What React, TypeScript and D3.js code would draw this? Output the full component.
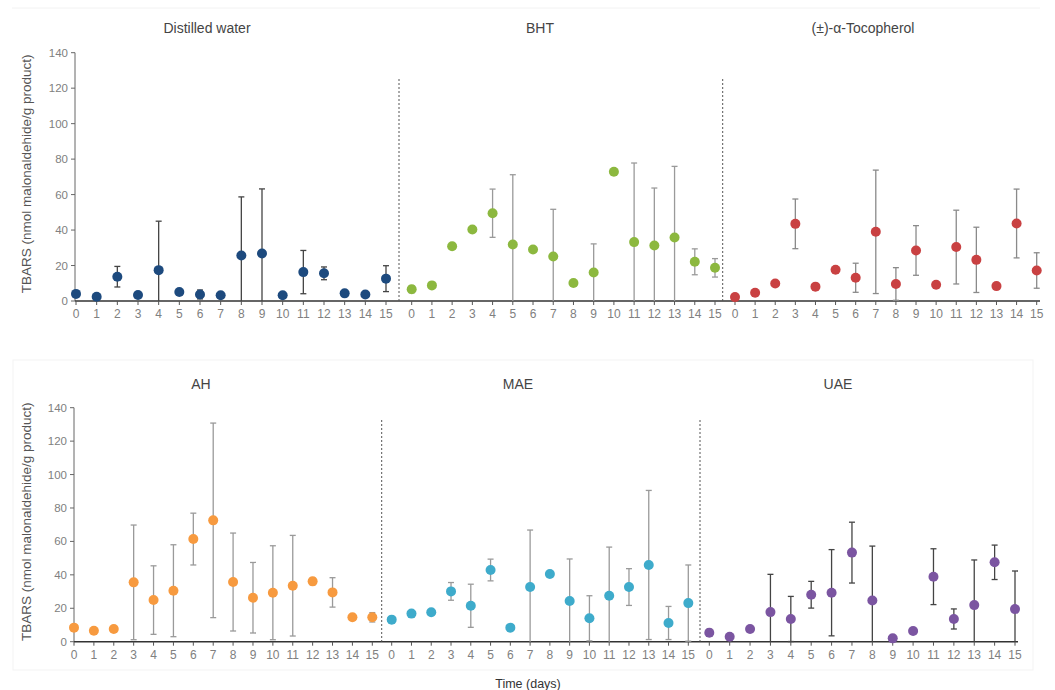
import React from "react";
import { scaleLinear, range } from "d3";

const width = 1055, height = 690;

const days = range(0, 16);
const yTicks = [0, 20, 40, 60, 80, 100, 120, 140];

// TBARS means and SD
const dwMean = [4, 2.4, 13.7, 3.4, 17.4, 5.1, 3.7, 3.2, 25.7, 26.8, 3.2, 16.3, 15.6, 4.3, 3.7, 12.6];
const dwErr = [1, 1, 5.8, 1.5, 27.6, 1, 2.5, 1, 33, 36.4, 1, 12.2, 3.6, 1.5, 0.5, 7.3];

const bhtMean = [6.6, 8.8, 30.9, 40.3, 49.5, 31.9, 29, 25.1, 10.1, 16.1, 72.9, 33.2, 31.3, 35.8, 22.1, 18.7];
const bhtErr = [2, 0, 0, 0, 13.6, 39.3, 1.5, 26.6, 1.2, 16.1, 0, 44.6, 32.4, 40.1, 7.3, 5.2];

const tocMean = [2.2, 4.7, 9.9, 43.5, 8.1, 17.6, 13.1, 39, 9.6, 28.5, 9.2, 30.4, 23.2, 8.4, 43.7, 17.2];
const tocErr = [0, 0, 0, 14, 0, 0, 8.2, 34.8, 9.2, 14, 0, 20.8, 18.4, 0, 19.4, 10];

const ahMean = [8.4, 6.6, 7.6, 35.5, 24.9, 30.5, 61.4, 72.6, 35.7, 26.3, 29.3, 33.5, 36.1, 29.5, 14.6, 14.6];
const ahErr = [0, 0, 1.5, 34.3, 20.5, 27.5, 15.5, 58.2, 29.3, 21.1, 28.1, 30.1, 2, 8.8, 0, 2.8];

const maeMean = [13.2, 16.8, 17.6, 30.1, 21.5, 42.9, 8.4, 32.7, 40.5, 24.3, 14, 27.5, 32.7, 45.9, 11.2, 23.1];
const maeErr = [0, 0, 0, 5.3, 12.9, 6.5, 0, 34.1, 0, 25.2, 13.5, 29.1, 11, 44.6, 9.9, 22.8];

const uaeMean = [5.4, 3, 7.6, 17.7, 13.6, 28.1, 29.3, 53.3, 24.7, 2, 6.4, 38.9, 13.6, 21.9, 47.5, 19.5];
const uaeErr = [2, 0, 1.2, 22.6, 13.5, 8, 25.8, 18.2, 32.5, 0, 0, 16.7, 6, 27, 10.3, 22.8];

const rows = [
  {
    y0: 301, y140: 52.7, axisStart: 75, axisEnd: 1040, divTop: 79,
    panels: [
      { title: "Distilled water", mean: dwMean, err: dwErr, x0: 76, x15: 386, color: "#1d4a7e", errColor: "#444" },
      { title: "BHT", mean: bhtMean, err: bhtErr, x0: 411.7, x15: 715, color: "#8cb83f", errColor: "#9a9a9a", divider: 399 },
      { title: "(±)-α-Tocopherol", mean: tocMean, err: tocErr, x0: 735, x15: 1036.7, color: "#c94142", errColor: "#8a8a8a", divider: 722.7 },
    ],
  },
  {
    y0: 641.7, y140: 407.7, axisStart: 74, axisEnd: 1018, divTop: 420,
    panels: [
      { title: "AH", mean: ahMean, err: ahErr, x0: 74, x15: 372.3, color: "#f79a3f", errColor: "#9a9a9a" },
      { title: "MAE", mean: maeMean, err: maeErr, x0: 391.7, x15: 688.3, color: "#3eabcb", errColor: "#9a9a9a", divider: 381.7 },
      { title: "UAE", mean: uaeMean, err: uaeErr, x0: 709.3, x15: 1015, color: "#7b55a1", errColor: "#444", divider: 700 },
    ],
  },
];

const font = "'Liberation Sans', Arial, sans-serif";

const Panel = ({ p, yScale, y0, divTop }) => {
  const x = scaleLinear().domain([0, 15]).range([p.x0, p.x15]);
  return (
    <g>
      {p.divider && (
        <line x1={p.divider} x2={p.divider} y1={divTop} y2={y0} stroke="#555" strokeWidth={1} strokeDasharray="2,2" />
      )}
      {days.map(d => (
        <g key={d}>
          <line x1={x(d)} x2={x(d)} y1={y0} y2={y0 + 4} stroke="#555" />
          <text x={x(d)} y={y0 + 17} textAnchor="middle" fontSize={12} fill="#808080" fontFamily={font}>{d}</text>
        </g>
      ))}
      {days.map(d => {
        const m = p.mean[d], e = p.err[d];
        if (!e) return null;
        const top = yScale(m + e), bot = yScale(Math.max(0, m - e));
        return (
          <g key={"e" + d} stroke={p.errColor} strokeWidth={1.3}>
            <line x1={x(d)} x2={x(d)} y1={top} y2={bot} />
            <line x1={x(d) - 3} x2={x(d) + 3} y1={top} y2={top} />
            {m - e > 0 && <line x1={x(d) - 3} x2={x(d) + 3} y1={bot} y2={bot} />}
          </g>
        );
      })}
      {days.map(d => (
        <circle key={"c" + d} cx={x(d)} cy={yScale(p.mean[d])} r={5} fill={p.color} />
      ))}
    </g>
  );
};

export default function App() {
  return (
    <svg width={width} height={height} style={{ position: "absolute", left: 0, top: 0, background: "#fff" }}>
      {/* faint frames of the pasted panels */}
      <line x1={12} x2={1040} y1={8} y2={8} stroke="#f2f2f2" />
      <rect x={13} y={360} width={1020} height={310} fill="none" stroke="#f3f3f3" />

      {rows.map((row, ri) => {
        const yScale = scaleLinear().domain([0, 140]).range([row.y0, row.y140]);
        const ax = row.axisStart;
        const titleY = ri === 0 ? 33 : 389;
        const titleXs = ri === 0 ? [207, 540, 863] : [201, 518, 838];
        return (
          <g key={ri}>
            {/* y axis */}
            <line x1={ax} x2={ax} y1={row.y0} y2={row.y140} stroke="#666" />
            {yTicks.map(t => (
              <g key={t}>
                <line x1={ax - 4} x2={ax} y1={yScale(t)} y2={yScale(t)} stroke="#666" />
                <text x={ax - 7} y={yScale(t) + 4} textAnchor="end" fontSize={11.5} fill="#808080" fontFamily={font}>{t}</text>
              </g>
            ))}
            <text
              transform={`translate(${31},${(row.y0 + row.y140) / 2 - 3}) rotate(-90)`}
              textAnchor="middle" fontSize={13.5} fill="#555" fontFamily={font}
            >
              TBARS (nmol malonaldehide/g  product)
            </text>
            {/* x axis */}
            <line x1={ax} x2={row.axisEnd} y1={row.y0} y2={row.y0} stroke="#333" strokeWidth={1.5} />
            {row.panels.map((p, i) => (
              <g key={p.title}>
                <text x={titleXs[i]} y={titleY} textAnchor="middle" fontSize={14} fill="#444" fontFamily={font}>{p.title}</text>
                <Panel p={p} yScale={yScale} y0={row.y0} divTop={row.divTop} />
              </g>
            ))}
          </g>
        );
      })}
      <text x={528} y={688} textAnchor="middle" fontSize={12.5} fill="#333" fontFamily={font}>Time (days)</text>
    </svg>
  );
}
